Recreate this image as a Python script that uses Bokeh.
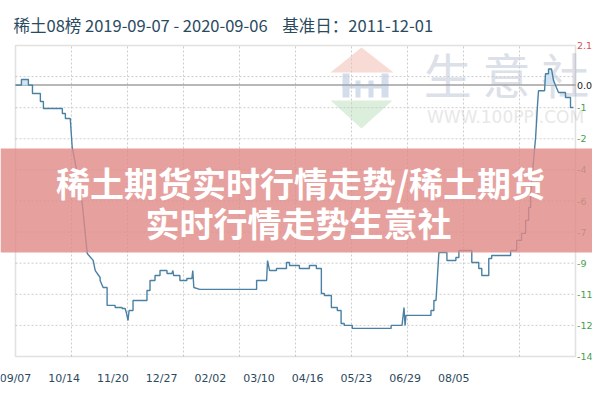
import numpy as np
from bokeh.plotting import figure
from bokeh.models import BoxAnnotation, Label, PolyAnnotation, Range1d, ColumnDataSource
from bokeh.embed import file_html
from bokeh.resources import INLINE

# ---- data (x = day offset from 2019-09-07, y = index change) ----
days = [0, 4.5, 4.5, 9.8, 9.8, 12.9, 12.9, 18.9, 18.9, 21.2, 21.2, 35.6, 35.6, 37.9, 37.9, 41.6,
        43.1, 46.9, 50.7, 53, 54.5, 55.3, 59, 60.6, 64.3, 64.3, 66.6, 69.6, 69.6, 75.7, 75.7, 81,
        81, 83.3, 84.4, 85.5, 86.3, 89.3, 89.3, 99.9, 99.9, 102.2, 102.2, 106, 106, 109.8, 109.8,
        115.1, 115.1, 118.8, 119.6, 120.1, 124.9, 124.9, 130.2, 130.2, 134, 134.7, 135.5, 140,
        183.2, 183.2, 190.8, 191.5, 193.1, 198.3, 198.3, 205.9, 205.9, 208.2, 208.2, 215.7, 215.7,
        223.3, 223.3, 228.6, 228.6, 232.4, 232.4, 234.7, 234.7, 240, 240, 244.5, 244.5, 247.4,
        247.4, 249.8, 249.8, 255.9, 255.9, 285.4, 285.4, 293.7, 295.2, 296, 296.7, 315.7, 315.7,
        317.9, 317.9, 319.5, 321.7, 327.8, 327.8, 334.6, 334.6, 336.9, 336.9, 346.7, 346.7, 352,
        352, 354.3, 354.3, 359.6, 359.6, 361.8, 361.8, 376.2, 376.2, 380.8, 380.8, 384.5, 384.5,
        387.6, 387.6, 389.9, 389.9, 391.4, 391.4, 393.6, 395.2, 396.7, 397.4, 402, 402.7, 405,
        405, 407.3, 408.8, 411, 412.6, 417.9, 417.9, 421.7, 421.7, 423.9]
values = [0.0, 0.0, 0.3, 0.3, 0.0, 0.0, -0.45, -0.45, -0.87, -0.87, -1.24, -1.24, -1.51, -1.51, -1.77, -1.77,
          -3.31, -4.69, -6.28, -7.87, -8.93, -9.0, -9.3, -9.84, -10.21, -10.37, -10.74, -10.74, -11.69, -11.69, -11.80, -11.80,
          -11.85, -11.85, -12.12, -12.49, -11.96, -11.96, -11.43, -11.43, -10.90, -10.90, -10.37, -10.37, -10.10, -10.10, -9.84,
          -9.84, -10.0, -10.0, -9.84, -10.1, -10.10, -10.37, -10.37, -10.26, -10.26, -9.84, -10.74, -10.84,
          -10.84, -10.37, -10.37, -9.31, -9.84, -9.84, -9.73, -9.73, -9.41, -9.41, -9.57, -9.57, -9.73,
          -9.73, -9.57, -9.57, -9.73, -9.73, -11.06, -11.06, -11.16, -11.16, -11.80, -11.80, -11.96, -11.96,
          -12.65, -12.65, -12.75, -12.75, -12.91, -12.91, -12.75, -12.75, -11.8, -12.75, -12.22, -12.22, -11.96,
          -11.96, -11.43, -11.43, -8.88, -8.88, -9.31, -9.31, -9.15, -9.15, -8.78, -8.78, -9.41, -9.41,
          -9.73, -9.73, -10.10, -10.10, -9.2, -9.2, -9.04, -9.04, -8.78, -8.78, -8.24, -8.24, -7.87,
          -7.87, -7.18, -7.18, -6.49, -6.49, -5.75, -4.0, -2.78, -0.98, -0.3, -0.3, 0.6, 0.6,
          0.85, 0.85, 0.24, -0.13, -0.39, -0.39, -0.66, -0.66, -1.19, -1.19]

x_tick_days = [0, 37, 74, 111, 148, 185, 222, 259, 296, 333]
x_tick_labels = ["09/07", "10/14", "11/20", "12/27", "02/02", "03/10", "04/16", "05/23", "06/29", "08/05"]

y_grid_values = [2.1, 0.45, -1.2, -2.85, -4.5, -6.15, -7.8, -9.45, -11.1, -12.75, -14.4]
y_label_values = [2.1, 0.0, -1.2, -2.85, -4.5, -6.15, -7.8, -9.45, -11.1, -12.75, -14.4]
y_label_texts = ["2.1", "0.0", "-1", "-2", "-4", "-6", "-7", "-9", "-11", "-12", "-14"]
y_label_colors = ["#d9534f", "#222222", "#4a9e4a", "#4a9e4a", "#4a9e4a", "#4a9e4a",
                  "#4a9e4a", "#4a9e4a", "#4a9e4a", "#4a9e4a", "#4a9e4a"]

NB = "\u00a0"
title_text = "稀土08榜 2019-09-07 - 2020-09-06" + NB * 4 + "基准日：2011-12-01"
overlay_line1 = "稀土期货实时行情走势/稀土期货"
overlay_line2 = "实时行情走势生意社"

X_START, X_END = 0, 425.5
Y_START, Y_END = -14.4, 2.1

# ---- layout (canvas pixels) ----
W, H = 592, 392
BOX_L, BOX_R, BOX_T, BOX_B = 15, 575, 45, 356
ppx = (BOX_R - BOX_L) / (X_END - X_START)
ppy = (BOX_B - BOX_T) / (Y_END - Y_START)
xr = Range1d(X_START - BOX_L / ppx, X_END + (W - BOX_R) / ppx)
yr = Range1d(Y_START - (H - BOX_B) / ppy, Y_END + BOX_T / ppy)

p = figure(width=W, height=H, output_backend="svg", toolbar_location=None, title=None,
           x_range=xr, y_range=yr, x_axis_location=None, y_axis_location=None,
           min_border=0, background_fill_color="white", border_fill_color="white")
p.outline_line_color = None
p.xgrid.visible = False
p.ygrid.visible = False

# watermark
wm = dict(xs_units="canvas", ys_units="canvas", line_color=None, fill_alpha=1.0, level="image")
p.add_layout(PolyAnnotation(xs=[361, 330, 393], ys=[47, 72, 72], fill_color="#f7dbd4", **wm))
p.add_layout(PolyAnnotation(xs=[330, 392, 361], ys=[100, 100, 128], fill_color="#dcefdc", **wm))
for l, r, t, b in [(342, 349, 73, 97), (355, 360, 80, 97), (368, 373, 80, 97), (381, 388, 73, 97), (342, 388, 84, 88)]:
    p.add_layout(BoxAnnotation(left=l, right=r, top=t, bottom=b, left_units="canvas", right_units="canvas",
                               top_units="canvas", bottom_units="canvas", fill_color="#d3ddec", fill_alpha=1.0,
                               line_color=None, level="image"))
p.add_layout(Label(x=506, y=72, x_units="canvas", y_units="canvas", text="生 意 社", text_align="center",
                   text_baseline="middle", text_font="Noto Sans CJK SC", text_font_size="48px",
                   text_color="#dbe0e9", level="image"))
p.add_layout(Label(x=505, y=116, x_units="canvas", y_units="canvas", text="WWW.100PPI.COM", text_align="center",
                   text_baseline="middle", text_font="DejaVu Sans", text_font_size="17px",
                   text_color="#e8e8e8", level="image"))

# grid lines inside the plot box
gx = np.linspace(X_START, X_END, 11)[1:-1]
p.segment(x0=gx, x1=gx, y0=Y_START, y1=Y_END, line_color="#cccccc", line_dash="2 2", line_width=1)
gy = np.array(y_grid_values[1:-1])
p.segment(x0=X_START, x1=X_END, y0=gy, y1=gy, line_color="#cccccc", line_dash="2 2", line_width=1)

# zero reference line
p.segment(x0=[X_START], x1=[X_END], y0=[0], y1=[0], line_color="#a0a0a0", line_width=1.5)

# series
vals = np.array(values)
p.varea(x=days, y1=np.zeros(len(vals)), y2=np.maximum(vals, 0), fill_color="#cfe2f3", fill_alpha=0.9)
p.line(days, values, line_color="#4a80a3", line_width=1.4)

# plot box outline
p.add_layout(BoxAnnotation(left=X_START, right=X_END, bottom=Y_START, top=Y_END, fill_alpha=0,
                           line_color="#9a9a9a", line_width=1.5))

# x tick labels
p.text(x=x_tick_days, y=[Y_START - 22 / ppy] * len(x_tick_days), text=x_tick_labels,
       text_align="center", text_baseline="middle", text_font={"value": "DejaVu Sans"},
       text_font_size="11px", text_color="#2c4a5e")

# right-side value labels
src = ColumnDataSource(dict(y=y_label_values, t=y_label_texts, c=y_label_colors))
p.text(x=X_END, y="y", text="t", text_color="c", source=src, x_offset=1.5,
       text_align="left", text_baseline="middle", text_font={"value": "DejaVu Sans"},
       text_font_size="9.5px")

# title
p.add_layout(Label(x=13, y=24, x_units="canvas", y_units="canvas", text=title_text,
                   text_baseline="middle", text_font="Noto Sans CJK SC", text_font_size="16.5px",
                   text_color="#2a4a60"))

# translucent overlay band with caption
p.add_layout(BoxAnnotation(left=0, right=W, top=148, bottom=252, left_units="canvas", right_units="canvas",
                           top_units="canvas", bottom_units="canvas", fill_color="#e08a86", fill_alpha=0.8,
                           line_color=None))
p.add_layout(Label(x=300, y=182, x_units="canvas", y_units="canvas", text=overlay_line1, text_align="center",
                   text_baseline="middle", text_font="Noto Sans CJK SC", text_font_size="34px",
                   text_font_style="bold", text_color="white", level="overlay"))
p.add_layout(Label(x=298, y=222, x_units="canvas", y_units="canvas", text=overlay_line2, text_align="center",
                   text_baseline="middle", text_font="Noto Sans CJK SC", text_font_size="34px",
                   text_font_style="bold", text_color="white", level="overlay"))

open("out.html", "w").write(file_html(p, INLINE))
